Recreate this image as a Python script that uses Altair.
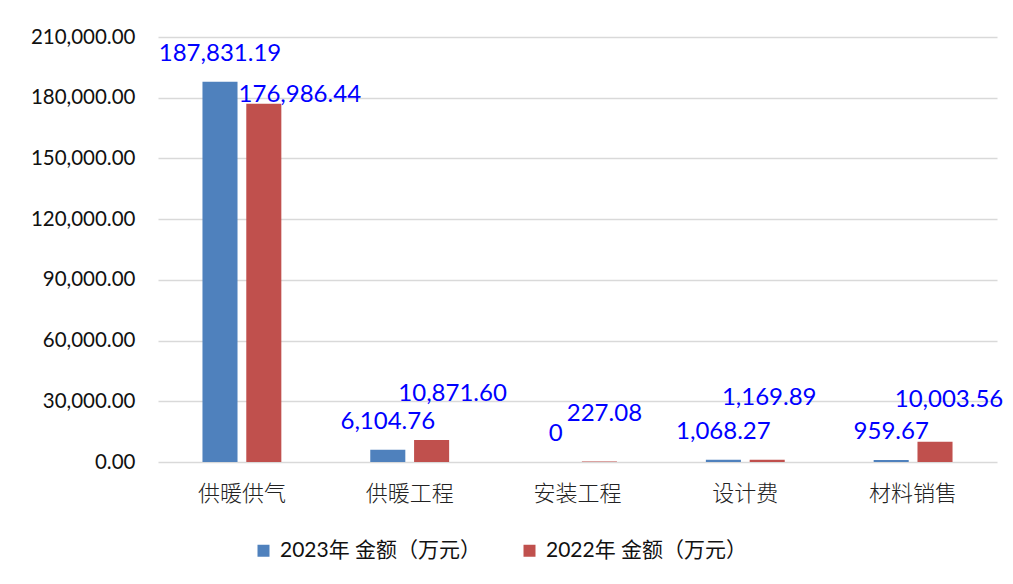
import altair as alt
import pandas as pd

categories = ["供暖供气", "供暖工程", "安装工程", "设计费", "材料销售"]
series_names = ["2023年 金额（万元）", "2022年 金额（万元）"]
values_2023 = [187831.19, 6104.76, 0, 1068.27, 959.67]
values_2022 = [176986.44, 10871.60, 227.08, 1169.89, 10003.56]

colors = ["#4F81BD", "#C0504D"]
# label offsets (pixels) for the 2022 data labels, per category
red_dx = [36, 21, 5, 2, 14]
red_dy = [-9, -46, -48, -62, -42]

rows = []
for c, a, b in zip(categories, values_2023, values_2022):
    rows.append({"cat": c, "series": series_names[0], "value": a})
    rows.append({"cat": c, "series": series_names[1], "value": b})
df = pd.DataFrame(rows)
df["label"] = df["value"].apply(lambda v: "0" if v == 0 else f"{v:,.2f}")

FONT = "Lato, Noto Sans CJK SC"
LBL = 24

x_enc = alt.X("cat:N", sort=categories,
              scale=alt.Scale(paddingInner=0.53, paddingOuter=0.265),
              axis=alt.Axis(title=None, labelAngle=0, labelFontSize=22,
                            labelFont="Noto Sans CJK SC", labelColor="#222222",
                            labelPadding=21, domain=False, ticks=False,
                            labelFontWeight=300))
xo_enc = alt.XOffset("series:N", sort=series_names,
                     scale=alt.Scale(paddingInner=0.2, paddingOuter=0))
y_enc = alt.Y("value:Q", scale=alt.Scale(domain=[0, 210000], nice=False),
              axis=alt.Axis(title=None, values=list(range(0, 210001, 30000)),
                            format=",.2f", labelFontSize=20.5, labelFont=FONT,
                            labelColor="#111111", labelPadding=23,
                            domain=False, ticks=False, gridColor="#D9D9D9",
                            gridWidth=1.5))

bars = alt.Chart(df).mark_bar().encode(
    x=x_enc, xOffset=xo_enc, y=y_enc,
    color=alt.Color("series:N", sort=series_names,
                    scale=alt.Scale(domain=series_names, range=colors),
                    legend=alt.Legend(title=None, orient="none", direction="horizontal",
                                      legendX=95, legendY=503,
                                      symbolType="square", symbolSize=144,
                                      symbolStrokeWidth=0, labelOffset=6,
                                      labelFont=FONT, labelFontSize=21,
                                      labelColor="#111111", columnPadding=37,
                                      labelLimit=400, symbolOffset=0))
)

base_text = alt.Chart(df)
layers = [bars]
blue_text = base_text.transform_filter(
    alt.datum.series == series_names[0]
).mark_text(color="#0000FF", fontSize=LBL, font=FONT, dy=-28,
            align="center", baseline="middle").encode(
    x=alt.X("cat:N", sort=categories), xOffset=alt.XOffset("series:N", sort=series_names),
    y="value:Q", text="label:N")
layers.append(blue_text)
for c, dx, dy in zip(categories, red_dx, red_dy):
    t = base_text.transform_filter(
        (alt.datum.series == series_names[1]) & (alt.datum.cat == c)
    ).mark_text(color="#0000FF", fontSize=LBL, font=FONT, dx=dx, dy=dy,
                align="center", baseline="middle").encode(
        x=alt.X("cat:N", sort=categories), xOffset=alt.XOffset("series:N", sort=series_names),
        y="value:Q", text="label:N")
    layers.append(t)

chart = alt.layer(*layers).properties(
    width=839, height=425,
    padding={"left": 150, "top": 29, "right": 8, "bottom": 114},
    autosize=alt.AutoSizeParams(type="none"),
    background="white",
).configure_view(stroke=None)

chart.save("out.html", embed_options={"renderer": "svg", "actions": False})
